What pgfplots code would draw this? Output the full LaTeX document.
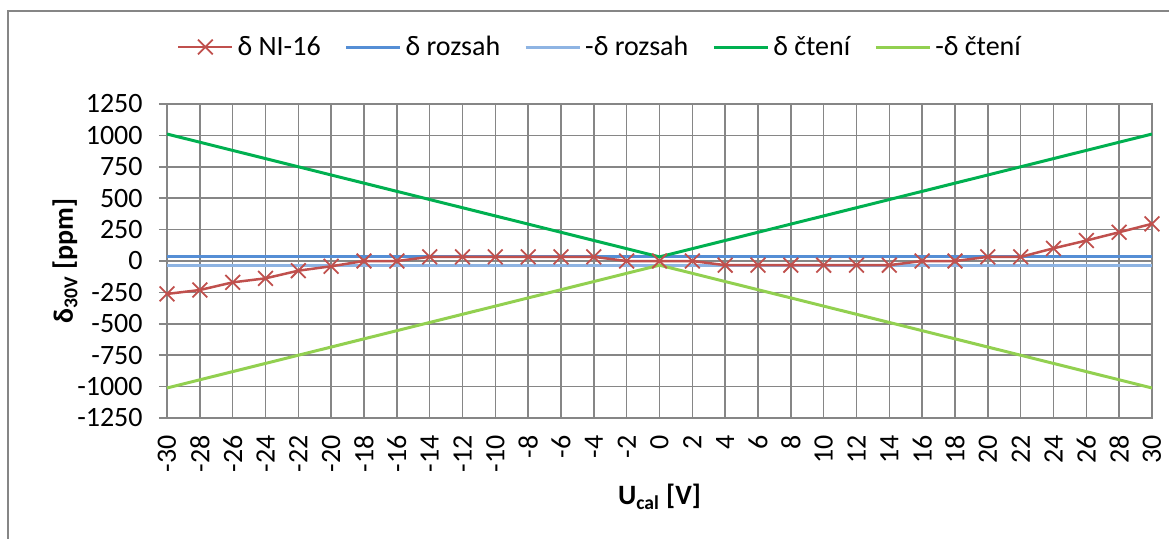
\documentclass[border=0pt]{standalone}
\usepackage{pgfplots}
\pgfplotsset{compat=1.18}
\usepackage{fontspec}
\setmainfont{Carlito}
\definecolor{cRed}{HTML}{C0504D}
\definecolor{cBlue}{HTML}{558ED5}
\definecolor{cLBlue}{HTML}{8EB4E3}
\definecolor{cGreen}{HTML}{00B050}
\definecolor{cLGreen}{HTML}{92D050}
\definecolor{cGrid}{HTML}{868686}
\begin{document}
\begin{tikzpicture}
\useasboundingbox (0,0) rectangle (584.5pt,269pt);
\draw[cGrid, line width=0.75pt] (4pt,-2pt) -- (4pt,263.5pt) -- (590pt,263.5pt);
\begin{axis}[
  at={(83.5pt,60pt)}, anchor=south west,
  scale only axis, width=492.5pt, height=157pt,
  xmin=-30, xmax=30, ymin=-1250, ymax=1250,
  xtick={-30,-28,...,30},
  xticklabels={-30,-28,-26,-24,-22,-20,-18,-16,-14,-12,-10,-8,-6,-4,-2,0,2,4,6,8,10,12,14,16,18,20,22,24,26,28,30},
  ytick={-1250,-1000,...,1250},
  yticklabels={-1250,-1000,-750,-500,-250,0,250,500,750,1000,1250},
  grid=major,
  major grid style={cGrid, line width=0.75pt},
  axis line style={cGrid, line width=0.75pt},
  tick align=outside,
  ytick pos=left, xtick pos=bottom,
  xtick style={draw=none},
  ytick style={cGrid, line width=0.75pt},
  major tick length=4pt,
  tick label style={font=\fontsize{14}{16}\selectfont, text=black},
  xticklabel style={rotate=90, anchor=east, inner sep=0pt, xshift=-4.5pt},
  yticklabel style={anchor=east, inner sep=0pt, xshift=-8pt},
  xlabel={\textbf{U\textsubscript{cal} [V]}},
  ylabel={\textbf{δ\textsubscript{30V} [ppm]}},
  label style={font=\fontsize{14}{16}\selectfont},
  xlabel style={at={(axis description cs:0.5,-0.2516)}, anchor=center},
  ylabel style={at={(axis description cs:-0.1036,0.5)}, anchor=center, rotate=0},
  legend style={draw=none, fill=none, at={(axis description cs:0.4406,1.1815)}, anchor=center,
    font=\fontsize{14}{16}\selectfont, /tikz/every even column/.append style={column sep=10pt}},
  legend columns=5,
  legend cell align=left,
  legend image code/.code={\draw[mark repeat=2,mark phase=2,#1] plot coordinates {(0pt,0pt) (13.5pt,0pt) (27pt,0pt)};},
]
\addlegendimage{cRed, line width=1.25pt, mark=x, mark size=5.2pt, mark options={line width=0.9pt}}
\addlegendentry{δ NI-16}
\addlegendimage{cBlue, line width=1.5pt}
\addlegendentry{δ rozsah}
\addlegendimage{cLBlue, line width=1.5pt}
\addlegendentry{-δ rozsah}
\addlegendimage{cGreen, line width=1.5pt}
\addlegendentry{δ čtení}
\addlegendimage{cLGreen, line width=1.5pt}
\addlegendentry{-δ čtení}

\addplot[forget plot, cBlue, line width=1.5pt] coordinates {(-30,33) (30,33)};
\addplot[forget plot, cLBlue, line width=1.5pt] coordinates {(-30,-33) (30,-33)};
\addplot[forget plot, cGreen, line width=1.5pt] coordinates {(-30,1011) (0,33) (30,1011)};
\addplot[forget plot, cLGreen, line width=1.5pt] coordinates {(-30,-1011) (0,-33) (30,-1011)};
\addplot[forget plot, cRed, line width=1.25pt, mark=x, mark size=5.2pt, mark options={line width=0.9pt}] coordinates {
(-30,-262) (-28,-231) (-26,-170) (-24,-138) (-22,-77) (-20,-42) (-18,0) (-16,0)
(-14,33) (-12,33) (-10,33) (-8,33) (-6,33) (-4,33) (-2,0) (0,0) (2,0)
(4,-33) (6,-33) (8,-33) (10,-33) (12,-33) (14,-33) (16,0) (18,0)
(20,33) (22,33) (24,101) (26,163) (28,229) (30,296)};
\end{axis}
\end{tikzpicture}
\end{document}
